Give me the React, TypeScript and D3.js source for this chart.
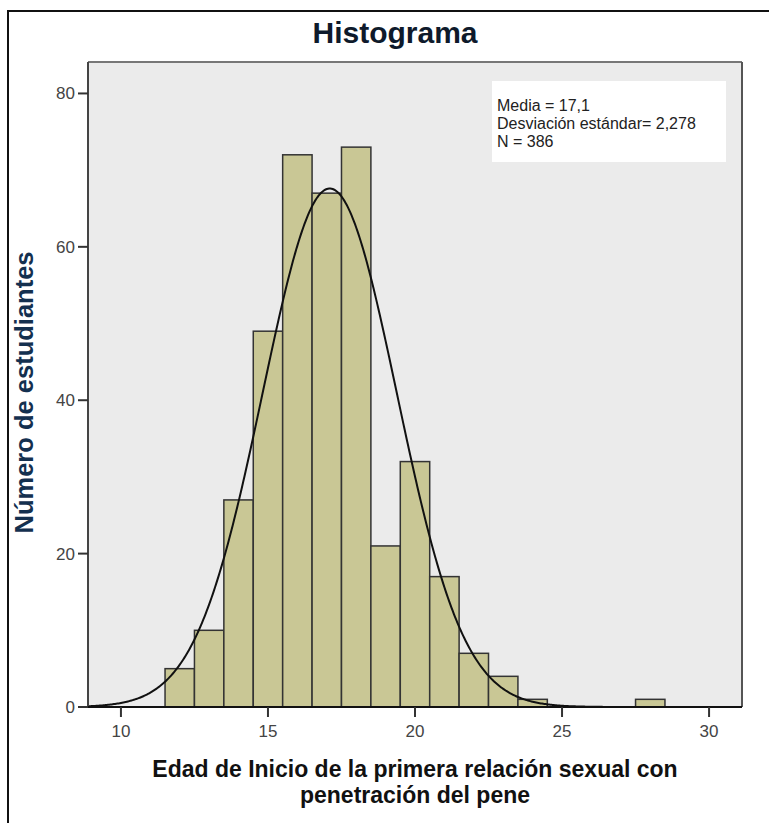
import React from "react";
import * as d3 from "d3";

const ages = [12, 13, 14, 15, 16, 17, 18, 19, 20, 21, 22, 23, 24, 28];
const counts = [5, 10, 27, 49, 72, 67, 73, 21, 32, 17, 7, 4, 1, 1];
const xTicks = [10, 15, 20, 25, 30];
const yTicks = [0, 20, 40, 60, 80];
const fitMean = 17.1;
const fitSd = 2.278;
const fitN = 386;
const legendLines = ["Media = 17,1", "Desviación estándar= 2,278", "N = 386"];
const title = "Histograma";
const xLabelLines = ["Edad de Inicio de la primera relación sexual con", "penetración del pene"];
const yLabel = "Número de estudiantes";

const W = 769;
const H = 823;
const pl = 88, pr = 742, pt = 62, pb = 707;

export default function App() {
  const x = d3.scaleLinear().domain([8.88, 31.12]).range([pl, pr]);
  const y = d3.scaleLinear().domain([0, 84.1]).range([pb, pt]);

  const pdf = (v: number) =>
    (fitN * 1) / (fitSd * Math.sqrt(2 * Math.PI)) * Math.exp(-0.5 * ((v - fitMean) / fitSd) ** 2);
  const xs = d3.range(8.88, 31.12, 0.04);
  const line = d3
    .line<number>()
    .x((v) => x(v))
    .y((v) => y(pdf(v)))
    .curve(d3.curveLinear);

  const font = "'Liberation Sans', Arial, sans-serif";

  return (
    <svg
      width={W}
      height={H}
      style={{ position: "absolute", left: 0, top: 0, background: "#fff" }}
      fontFamily={font}
    >
      <rect x={0} y={0} width={W} height={H} fill="#fff" />
      {/* outer frame */}
      <rect x={8} y={11} width={W + 20} height={H + 20} fill="none" stroke="#111" strokeWidth={2} />

      <text x={395} y={43} textAnchor="middle" fontSize={30} fontWeight="bold" fill="#0e1a2b">
        {title}
      </text>

      {/* plot background */}
      <rect x={pl} y={pt} width={pr - pl} height={pb - pt} fill="#ebebeb" />

      <defs>
        <clipPath id="plotclip">
          <rect x={pl} y={pt} width={pr - pl} height={pb - pt} />
        </clipPath>
      </defs>

      {/* legend box */}
      <rect x={492} y={81} width={234} height={81} fill="#fff" />
      {legendLines.map((t, i) => (
        <text key={t} x={497} y={111 + i * 17.8} fontSize={16} fill="#222">
          {t}
        </text>
      ))}

      {/* bars */}
      {ages.map((a, i) => (
        <rect
          key={a}
          x={x(a - 0.5)}
          y={y(counts[i])}
          width={x(a + 0.5) - x(a - 0.5)}
          height={y(0) - y(counts[i])}
          fill="#c9c795"
          stroke="#333"
          strokeWidth={1.5}
        />
      ))}

      {/* normal curve */}
      <path d={line(xs) || ""} fill="none" stroke="#111" strokeWidth={2} clipPath="url(#plotclip)" />

      {/* plot border */}
      <line x1={pl} y1={pt} x2={pr} y2={pt} stroke="#777" strokeWidth={2} />
      <line x1={pr} y1={pt} x2={pr} y2={pb} stroke="#555" strokeWidth={2} />
      <line x1={pl} y1={pt} x2={pl} y2={pb} stroke="#444" strokeWidth={2} />
      <line x1={pl - 10} y1={pb} x2={pr} y2={pb} stroke="#111" strokeWidth={2} />

      {/* y ticks */}
      {yTicks.map((t) => (
        <g key={t}>
          <line x1={pl - 10} x2={pl} y1={y(t)} y2={y(t)} stroke="#333" strokeWidth={2} />
          <text x={pl - 13} y={y(t)} dy="0.35em" textAnchor="end" fontSize={17} fill="#444">
            {t}
          </text>
        </g>
      ))}

      {/* x ticks */}
      {xTicks.map((t) => (
        <g key={t}>
          <line x1={x(t)} x2={x(t)} y1={pb} y2={pb + 10} stroke="#333" strokeWidth={2} />
          <text x={x(t)} y={737} textAnchor="middle" fontSize={17} fill="#444">
            {t}
          </text>
        </g>
      ))}

      {/* axis titles */}
      {xLabelLines.map((t, i) => (
        <text key={t} x={415} y={777 + i * 26} textAnchor="middle" fontSize={23} fontWeight="bold" fill="#111">
          {t}
        </text>
      ))}
      <text
        transform={`translate(32.5, 392.5) rotate(-90)`}
        textAnchor="middle"
        fontSize={25.5}
        fontWeight="bold"
        fill="#14304f"
      >
        {yLabel}
      </text>
    </svg>
  );
}
